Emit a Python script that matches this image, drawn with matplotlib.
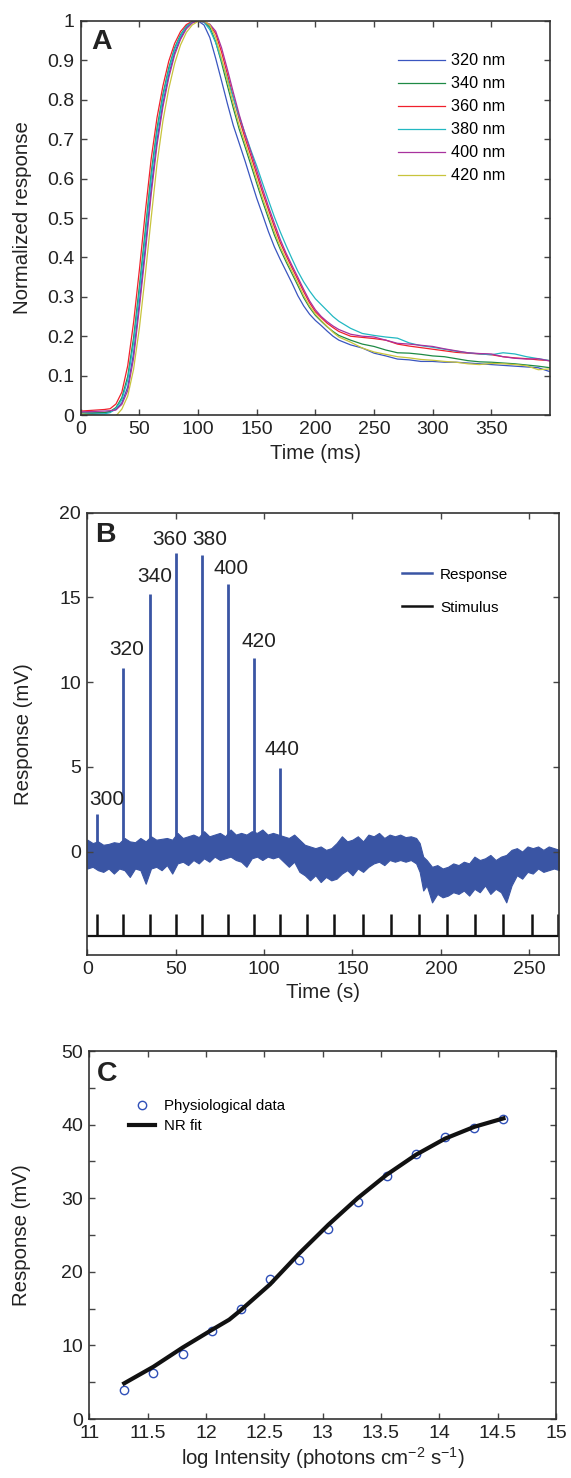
import matplotlib.pyplot as plt
from matplotlib.lines import Line2D
from matplotlib.ticker import MultipleLocator

plt.rcParams['font.family'] = ['Liberation Sans', 'DejaVu Sans']
plt.rcParams['mathtext.fontset'] = 'custom'
plt.rcParams['mathtext.rm'] = 'Liberation Sans'
plt.rcParams['mathtext.it'] = 'Liberation Sans:italic'

# ---- panel A: normalized responses per wavelength ----
t_ms = [0, 10, 20, 25, 30, 35, 40, 45, 50, 55, 60, 65, 70, 75, 80, 85, 90, 95, 100,
        105, 110, 115, 120, 125, 130, 135, 140, 145, 150, 155, 160, 165, 170, 175, 180,
        185, 190, 195, 200, 205, 210, 215, 220,
        230, 240, 250, 260, 270, 280, 290, 300, 310, 320, 330, 340, 350, 360, 370, 380, 390, 400]

resp_320 = [0.005, 0.005, 0.006, 0.008, 0.014, 0.031, 0.071, 0.157, 0.287, 0.426, 0.575, 0.698, 0.791, 0.864, 0.92, 0.957, 0.983, 0.996, 1.0,
            0.99, 0.958, 0.905, 0.848, 0.79, 0.735, 0.69, 0.645, 0.597, 0.55, 0.508, 0.465, 0.427, 0.395, 0.365, 0.335,
            0.303, 0.277, 0.256, 0.24, 0.227, 0.213, 0.2, 0.19,
            0.178, 0.17, 0.157, 0.15, 0.142, 0.14, 0.136, 0.136, 0.134, 0.134, 0.132, 0.13, 0.128, 0.126, 0.124, 0.122, 0.12, 0.11]
resp_340 = [0.005, 0.005, 0.006, 0.009, 0.019, 0.044, 0.098, 0.196, 0.328, 0.47, 0.614, 0.728, 0.814, 0.881, 0.932, 0.965, 0.987, 0.998, 1.0,
            0.998, 0.984, 0.947, 0.894, 0.836, 0.779, 0.726, 0.681, 0.635, 0.588, 0.542, 0.499, 0.457, 0.421, 0.389, 0.359,
            0.329, 0.298, 0.273, 0.253, 0.238, 0.224, 0.212, 0.202,
            0.19, 0.18, 0.174, 0.165, 0.158, 0.157, 0.154, 0.15, 0.148, 0.143, 0.138, 0.135, 0.134, 0.132, 0.13, 0.127, 0.124, 0.12]
resp_360 = [0.01, 0.012, 0.014, 0.016, 0.028, 0.058, 0.125, 0.235, 0.37, 0.515, 0.65, 0.755, 0.835, 0.898, 0.943, 0.973, 0.991, 0.999, 0.999,
            0.998, 0.99, 0.968, 0.921, 0.865, 0.807, 0.752, 0.703, 0.658, 0.611, 0.564, 0.521, 0.478, 0.438, 0.405, 0.374,
            0.344, 0.313, 0.285, 0.262, 0.247, 0.233, 0.222, 0.212,
            0.2, 0.197, 0.194, 0.19, 0.18, 0.175, 0.171, 0.167, 0.163, 0.159, 0.157, 0.155, 0.153, 0.148, 0.145, 0.143, 0.14, 0.138]
resp_380 = [0.003, 0.002, 0.003, 0.006, 0.017, 0.039, 0.089, 0.183, 0.314, 0.455, 0.602, 0.719, 0.807, 0.876, 0.929, 0.963, 0.986, 0.997, 1.0,
            0.997, 0.978, 0.945, 0.9, 0.853, 0.805, 0.758, 0.715, 0.672, 0.632, 0.588, 0.545, 0.503, 0.465, 0.43, 0.397,
            0.365, 0.338, 0.315, 0.295, 0.28, 0.265, 0.25, 0.238,
            0.22, 0.207, 0.202, 0.198, 0.195, 0.183, 0.176, 0.172, 0.167, 0.162, 0.158, 0.155, 0.153, 0.158, 0.155, 0.148, 0.143, 0.138]
resp_400 = [0.008, 0.009, 0.01, 0.011, 0.013, 0.027, 0.062, 0.144, 0.274, 0.412, 0.56, 0.686, 0.782, 0.856, 0.914, 0.953, 0.98, 0.995, 1.0,
            0.998, 0.992, 0.974, 0.932, 0.877, 0.819, 0.763, 0.713, 0.668, 0.621, 0.574, 0.529, 0.487, 0.446, 0.411, 0.38,
            0.35, 0.319, 0.29, 0.267, 0.25, 0.237, 0.226, 0.217,
            0.205, 0.2, 0.198, 0.19, 0.182, 0.18, 0.177, 0.174, 0.168, 0.163, 0.158, 0.156, 0.155, 0.148, 0.144, 0.142, 0.143, 0.137]
resp_420 = [0.003, 0.0, -0.004, -0.005, -0.002, 0.015, 0.048, 0.116, 0.222, 0.356, 0.5, 0.638, 0.746, 0.828, 0.892, 0.939, 0.971, 0.99, 0.999,
            1.0, 0.99, 0.958, 0.905, 0.848, 0.79, 0.735, 0.69, 0.645, 0.597, 0.55, 0.508, 0.465, 0.427, 0.395, 0.365,
            0.335, 0.303, 0.277, 0.256, 0.24, 0.225, 0.21, 0.198,
            0.185, 0.17, 0.16, 0.154, 0.148, 0.145, 0.141, 0.139, 0.136, 0.134, 0.13, 0.128, 0.131, 0.13, 0.128, 0.125, 0.115, 0.117]

wave_labels = ['320 nm', '340 nm', '360 nm', '380 nm', '400 nm', '420 nm']
wave_colors = ['#3a56c0', '#1e8a45', '#f0202c', '#22b8c2', '#a8329e', '#c8c43c']
a_yticklabels = ['0', '0.1', '0.2', '0.3', '0.4', '0.5', '0.6', '0.7', '0.8', '0.9', '1']

# ---- panel B: response trace and stimulus ----
env_t = [0, 3, 6, 9, 12, 15, 18, 21, 24, 27, 30, 33, 36, 39, 42, 45, 48, 51, 54, 57, 60, 63, 66, 69,
         72, 75, 78, 81, 84, 87, 90, 93, 96, 99, 102, 105, 108, 111, 114, 117, 120, 123, 126, 129,
         132, 135, 138, 141, 144, 147, 150, 153, 156, 159, 162, 165, 168, 171, 174, 177, 180, 183,
         186, 188, 190, 192, 195, 198, 201, 204, 207, 210, 213, 216, 219, 222, 225, 228, 231, 234,
         237, 240, 243, 246, 249, 252, 255, 258, 261, 264, 267]
env_top = [0.7, 0.5, 0.6, 0.4, 0.45, 0.55, 0.5, 0.8, 0.6, 0.55, 0.8, 0.6, 0.9, 0.7, 0.75, 0.8, 0.7, 1.1, 0.8, 0.9, 1.0, 0.85, 1.2, 0.9,
           1.0, 1.1, 0.9, 1.3, 1.0, 1.1, 1.0, 1.2, 1.1, 1.3, 1.0, 1.1, 1.0, 0.9, 0.8, 1.0, 0.7, 0.4, 0.3, 0.2,
           0.3, 0.1, 0.2, 0.5, 0.9, 0.6, 0.7, 0.9, 0.6, 1.0, 0.9, 1.1, 0.8, 1.0, 0.9, 1.0, 0.85, 0.9,
           0.8, 0.5, -0.3, -0.5, -0.9, -0.8, -1.0, -0.9, -0.7, -0.8, -0.6, -0.7, -0.3, -0.5, -0.4, -0.2, -0.5, -0.3,
           -0.2, 0.1, 0.2, 0.0, 0.3, 0.2, 0.3, 0.1, 0.3, 0.2, 0.1]
env_bottom = [-1.0, -0.9, -1.1, -1.2, -1.0, -1.3, -1.0, -1.1, -1.5, -1.0, -1.1, -1.9, -1.0, -0.9, -1.1, -0.8, -1.3, -0.7, -0.6, -0.8, -0.5, -0.7, -0.4, -0.6,
              -0.3, -0.5, -0.4, -0.3, -0.5, -0.6, -0.9, -0.4, -0.3, -0.5, -0.3, -0.4, -0.3, -0.6, -0.9, -0.6, -1.2, -1.4, -1.7, -1.4,
              -1.8, -1.5, -1.7, -1.6, -1.3, -1.1, -1.4, -1.0, -1.2, -0.9, -0.7, -0.6, -0.8, -0.5, -0.6, -0.5, -0.6, -0.5,
              -0.7, -1.2, -2.3, -2.0, -3.0, -2.5, -2.7, -2.6, -2.4, -2.5, -2.3, -2.6, -2.2, -2.4, -2.0, -2.5, -2.2, -2.4,
              -3.0, -2.0, -1.4, -1.6, -1.2, -1.3, -1.0, -1.2, -1.1, -1.0, -1.1]
stim_t = [5.7, 20.4, 35.3, 50.2, 65.0, 79.8, 94.5, 109.2, 124.2, 139.8, 155.8, 171.6, 187.5, 203.3,
          219.4, 235.4, 251.3, 266.0]
peak_mv = [2.2, 10.8, 15.2, 17.6, 17.5, 15.8, 11.4, 4.9]
peak_labels = ['300', '320', '340', '360', '380', '400', '420', '440']
label_t = [10.9, 22.0, 38.1, 46.4, 69.5, 81.4, 96.9, 109.9]
label_mv = [3.1, 11.9, 16.2, 18.4, 18.4, 16.7, 12.4, 6.0]

# ---- panel C: intensity-response ----
log_int = [11.3, 11.55, 11.8, 12.05, 12.3, 12.55, 12.8, 13.05, 13.3, 13.55, 13.8, 14.05, 14.3, 14.55]
data_mv = [4.0, 6.25, 8.8, 11.95, 14.95, 19.0, 21.6, 25.8, 29.5, 33.0, 36.0, 38.3, 39.6, 40.8]
fit_x = [11.3, 11.55, 11.8, 12.05, 12.2, 12.3, 12.55, 12.8, 13.05, 13.3, 13.55, 13.8, 14.05, 14.3, 14.55]
fit_mv = [4.85, 7.1, 9.7, 12.1, 13.5, 14.8, 18.3, 22.5, 26.4, 30.0, 33.2, 35.9, 38.1, 39.7, 40.85]
c_xticklabels = ['11', '11.5', '12', '12.5', '13', '13.5', '14', '14.5', '15']

resp_color = '#3a55a4'
txt_color = '#222222'
tick_fs = 14
label_fs = 14.7


def style(ax):
    for s in ax.spines.values():
        s.set_color('#333333')
        s.set_linewidth(1.2)
    ax.tick_params(which='both', direction='in', top=True, right=True, length=4,
                   width=1, color='#444444', labelsize=tick_fs, labelcolor=txt_color, pad=4.5)


fig = plt.figure(figsize=(5.71, 14.78), dpi=100)

# Panel A
axA = fig.add_axes([0.1415, 0.7192, 0.8217, 0.2666])
series = [resp_320, resp_340, resp_360, resp_380, resp_400, resp_420]
for vals, lab, col in zip(series, wave_labels, wave_colors):
    axA.plot(t_ms, vals, color=col, lw=0.9, label=lab)
axA.set_xlim(0, 400)
axA.set_ylim(0, 1)
axA.set_xticks(range(0, 351, 50))
axA.set_yticks([i / 10 for i in range(11)])
axA.set_yticklabels(a_yticklabels)
style(axA)
axA.set_xlabel('Time (ms)', fontsize=label_fs, color=txt_color, labelpad=4)
axA.set_ylabel('Normalized response', fontsize=label_fs, color=txt_color)
axA.yaxis.set_label_coords(-0.105, 0.5)
axA.text(0.022, 0.98, 'A', transform=axA.transAxes, fontsize=20.5, fontweight='bold',
         ha='left', va='top', color=txt_color)
axA.legend(loc='upper left', bbox_to_anchor=(0.675, 0.9175), frameon=False, fontsize=11.7,
           handlelength=2.9, handletextpad=0.4, labelspacing=0.49, borderpad=0, borderaxespad=0)

# Panel B
axB = fig.add_axes([0.153, 0.3539, 0.8265, 0.2993])
axB.fill_between(env_t, env_bottom, env_top, color=resp_color, lw=0.8, edgecolor=resp_color)
axB.vlines(stim_t[:len(peak_mv)], 0, peak_mv, color=resp_color, lw=2)
axB.vlines(stim_t, -5, -3.7, color='#111111', lw=1.8)
axB.hlines(-5, 0, 267, color='#111111', lw=1.6)
for lab, x, y in zip(peak_labels, label_t, label_mv):
    axB.text(x, y, lab, fontsize=15, ha='center', va='center', color=txt_color)
axB.set_xlim(0, 267)
axB.set_ylim(-6.1, 20)
axB.set_xticks(range(0, 251, 50))
axB.set_yticks(range(0, 21, 5))
style(axB)
axB.set_xlabel('Time (s)', fontsize=label_fs, color=txt_color, labelpad=3.5)
axB.set_ylabel('Response (mV)', fontsize=label_fs, color=txt_color)
axB.yaxis.set_label_coords(-0.116, 0.5)
axB.text(0.016, 0.978, 'B', transform=axB.transAxes, fontsize=20.5, fontweight='bold',
         ha='left', va='top', color=txt_color)
handlesB = [Line2D([], [], color=resp_color, lw=1.8), Line2D([], [], color='#111111', lw=1.8)]
axB.legend(handlesB, ['Response', 'Stimulus'], loc='upper left', bbox_to_anchor=(0.666, 0.8756),
           frameon=False, fontsize=11, handlelength=2.0, handletextpad=0.5, labelspacing=1.24,
           borderpad=0, borderaxespad=0)

# Panel C
axC = fig.add_axes([0.1562, 0.0399, 0.8175, 0.249])
axC.plot(log_int, data_mv, 'o', mfc='none', mec='#3050b8', ms=6, mew=1.0, label='Physiological data')
axC.plot(fit_x, fit_mv, '-', color='#111111', lw=3, label='NR fit')
axC.set_xlim(11, 15)
axC.set_ylim(0, 50)
axC.set_xticks([11 + 0.5 * i for i in range(9)])
axC.set_xticklabels(c_xticklabels)
axC.set_yticks(range(0, 51, 10))
axC.yaxis.set_minor_locator(MultipleLocator(5))
style(axC)
axC.set_xlabel('log Intensity (photons cm$^{-2}$ s$^{-1}$)', fontsize=label_fs, color=txt_color, labelpad=2)
axC.set_ylabel('Response (mV)', fontsize=label_fs, color=txt_color)
axC.yaxis.set_label_coords(-0.1236, 0.5)
axC.text(0.016, 0.972, 'C', transform=axC.transAxes, fontsize=20.5, fontweight='bold',
         ha='left', va='top', color=txt_color)
axC.legend(loc='upper left', bbox_to_anchor=(0.085, 0.869), frameon=False, fontsize=10.8,
           numpoints=1, handlelength=1.75, handletextpad=0.6, labelspacing=0.41,
           borderpad=0, borderaxespad=0)

fig.savefig('out.png', dpi=100)
